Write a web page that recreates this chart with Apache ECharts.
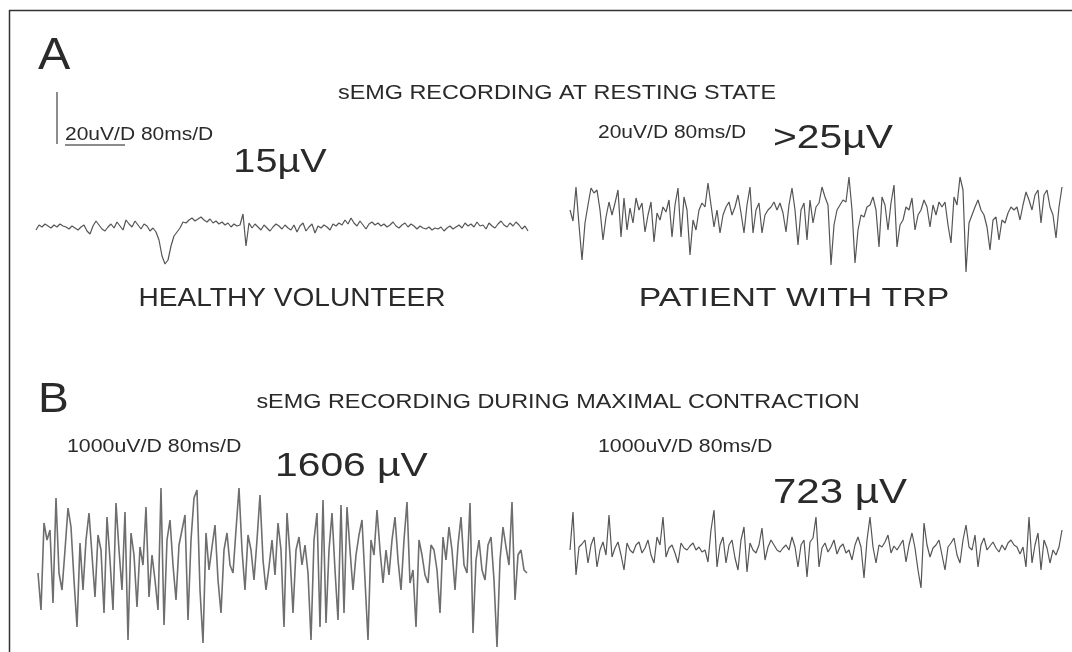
<!DOCTYPE html>
<html>
<head>
<meta charset="utf-8">
<script src="https://cdn.jsdelivr.net/npm/echarts@6/dist/echarts.min.js"></script>
<style>
html,body{margin:0;padding:0;background:#fff;}
#chart{width:1072px;height:652px;}
</style>
</head>
<body>
<div id="chart"></div>
<script>
// Panel A – resting state (amplitude offsets)
const healthyRest = [-2,3,1,4,2,0,3,1,4,2,1,-1,2,0,-2,1,3,-3,
  -6,2,7,3,-1,-3,1,4,0,6,2,-2,8,
  4,1,7,3,-1,4,2,-3,0,-4,
  -12,-28,-36,-32,-18,-8,-4,0,6,
  5,8,10,7,9,11,8,6,9,5,7,4,6,3,5,1,4,2,
  3,14,-18,5,0,
  4,1,-2,3,0,-3,1,4,2,-1,3,0,
  -2,3,-4,2,5,-3,1,4,-5,2,0,3,1,-2,4,2,5,3,8,4,
  10,5,2,7,3,-1,4,6,3,5,2,4,1,3,6,2,0,3,5,1,4,2,-1,
  2,0,-1,1,-2,0,-1,1,-3,0,2,-1,1,3,0,5,2,
  4,1,6,2,3,-1,5,2,0,4,7,3,1,5,2,6,3,-1,2,-3];
const trpRest = [5,-6,28,-10,-45,-8,10,27,22,25,5,-25,-2,13,0,12,25,-22,17,-15,
  7,-8,17,5,12,-17,0,13,-27,2,-5,8,3,15,-22,10,27,-22,18,5,
  -40,-5,-15,5,12,8,32,10,-12,5,-18,0,8,13,0,8,20,2,-18,10,
  28,-18,5,12,-18,0,5,8,13,5,12,2,-17,10,27,5,-30,5,12,-25,
  15,-8,8,12,28,18,10,-50,-10,5,10,15,13,38,5,-48,-15,0,-2,8,
  10,18,5,-32,18,10,-15,12,30,-32,-10,-5,8,5,17,-15,0,5,15,8,
  -12,10,0,13,8,13,-10,-28,18,10,38,25,-57,-8,0,8,15,5,0,-12,
  -35,-5,-2,-25,-5,-8,2,8,5,8,-5,10,23,15,5,20,25,-8,20,25,
  8,0,-23,8,28];
// Panel B – maximal contraction
const healthyMax = [-13,-50,37,20,30,-43,62,-13,-30,10,52,33,-20,-67,17,-30,20,47,5,-37,
  25,10,-53,43,0,-50,57,10,-30,48,-80,27,5,-47,13,-5,53,-37,5,-20,
  -50,72,-65,20,40,-5,-40,15,30,45,-60,20,62,70,-30,-83,27,-10,13,35,
  -20,-53,10,27,-5,-13,30,72,10,-30,25,10,-20,20,65,0,-30,-7,20,-15,
  37,10,-67,47,5,-53,10,23,-5,15,-13,-80,20,47,-67,60,-63,10,47,-10,
  -60,55,-53,53,10,-30,5,25,40,-20,-80,20,5,50,10,-23,10,-15,20,43,
  0,-30,20,58,-23,-10,-67,20,5,-15,-23,15,10,-10,-53,23,0,33,10,-30,
  15,43,-5,-13,57,-73,0,20,-10,-20,15,23,-20,-87,0,33,13,-5,58,-40,
  5,10,-10,-13];
const trpMax = [0,38,-25,3,6,10,-13,5,13,-17,0,8,-5,35,-7,2,8,-5,-20,7,
  0,-3,5,8,-3,2,10,-5,-13,13,5,33,-7,2,5,-3,-13,7,2,0,
  4,7,0,3,-2,0,-12,20,40,-17,5,13,-13,5,10,-8,-20,10,23,-22,
  7,0,-3,5,22,-10,3,10,5,0,-2,2,5,0,13,3,-17,5,10,-27,
  8,12,33,-17,2,7,-2,3,10,-4,3,6,-3,0,-10,5,13,3,-28,10,
  33,3,-13,5,3,8,15,-3,4,0,5,10,-12,5,17,2,-20,-38,27,5,
  -7,2,5,10,-5,-20,3,7,12,-5,-13,10,25,3,0,15,-17,5,12,0,
  4,8,2,-2,5,0,7,10,5,3,-4,3,-17,33,-13,5,17,-20,10,2,
  -13,0,-5,3,20];

const labelsA = {title:'sEMG RECORDING AT RESTING STATE', scale:'20uV/D 80ms/D', left:'15µV', right:'>25µV', leftName:'HEALTHY VOLUNTEER', rightName:'PATIENT WITH TRP'};
const labelsB = {title:'sEMG RECORDING DURING MAXIMAL CONTRACTION', scale:'1000uV/D 80ms/D', left:'1606 µV', right:'723 µV'};

const pairs = arr => arr.map((v,i)=>[i,v]);
const FONT = '"Liberation Sans", Arial, sans-serif';
const TXT = '#2a2a2a';
function txt(x,y,s,size,align,sx){
  return {type:'text', x:x, y:y, scaleX:sx||1.2, originX:0, originY:0,
    style:{text:s, font:'normal '+size+'px '+FONT, fill:TXT, align:align||'left', verticalAlign:'middle'}};
}

const chart = echarts.init(document.getElementById('chart'), null, {renderer:'canvas'});
const grids = [
  {left:36, top:190, width:492, height:80},
  {left:570, top:170, width:492, height:110},
  {left:38, top:480, width:489, height:172},
  {left:570, top:500, width:492, height:100}
];
const yr = [[-42,38],[-65,45],[-92,80],[-50,50]];
const sets = [healthyRest, trpRest, healthyMax, trpMax];
chart.setOption({
  animation:false,
  backgroundColor:'#fff',
  grid: grids,
  xAxis: sets.map((d,i)=>({type:'value', gridIndex:i, min:0, max:d.length-1, show:false})),
  yAxis: yr.map((r,i)=>({type:'value', gridIndex:i, min:r[0], max:r[1], show:false})),
  series: sets.map((d,i)=>({type:'line', xAxisIndex:i, yAxisIndex:i, data:pairs(d), showSymbol:false,
    lineStyle:{color: i===2 ? '#6e6e6e' : '#555', width: i===2 ? 1.6 : 1.2}, silent:true, clip:false})),
  graphic: [
    {type:'line', shape:{x1:9, y1:10.5, x2:1072, y2:10.5}, style:{stroke:'#333', lineWidth:1.5}},
    {type:'line', shape:{x1:9.5, y1:10, x2:9.5, y2:652}, style:{stroke:'#333', lineWidth:1.5}},
    {type:'line', shape:{x1:57, y1:92, x2:57, y2:144}, style:{stroke:'#666', lineWidth:1.5}},
    {type:'line', shape:{x1:65, y1:145, x2:125, y2:145}, style:{stroke:'#666', lineWidth:1.5}},
    txt(38,57,'A',44,'left',1.1),
    txt(557,94,labelsA.title,19.5,'center'),
    txt(65,135,labelsA.scale,17.5,'left'),
    txt(280,163,labelsA.left,33,'center'),
    txt(598,133,labelsA.scale,17.5,'left'),
    txt(773,139,labelsA.right,34,'left'),
    txt(292,299,labelsA.leftName,26,'center',1.08),
    txt(794,299,labelsA.rightName,26,'center',1.3),
    txt(38,400,'B',42,'left',1.1),
    txt(558,403,labelsB.title,19.5,'center'),
    txt(67,447,labelsB.scale,17.8,'left'),
    txt(275,467,labelsB.left,34,'left'),
    txt(598,447,labelsB.scale,17.8,'left'),
    txt(773,493,labelsB.right,35,'left')
  ]
});
</script>
</body>
</html>
